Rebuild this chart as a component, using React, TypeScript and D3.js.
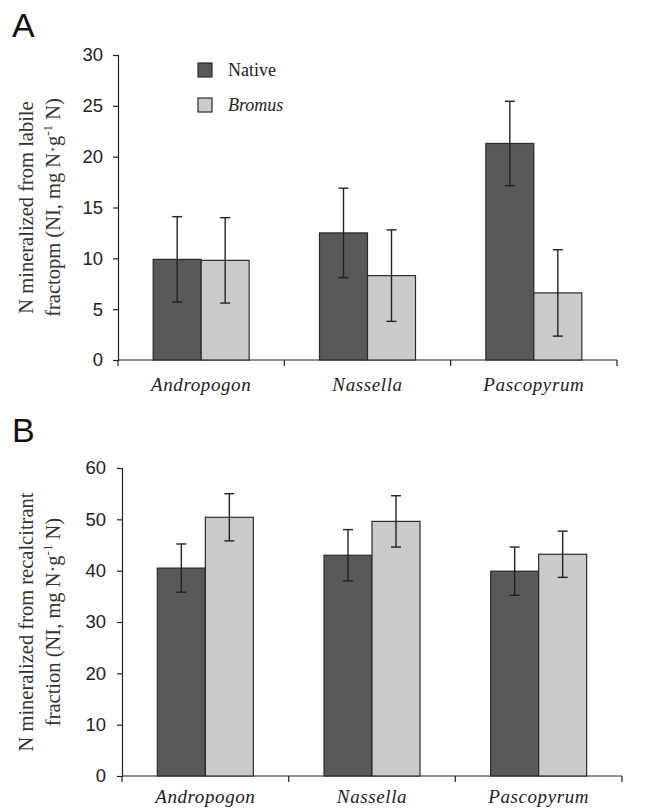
import React, { useRef, useEffect } from 'react';
import * as d3 from 'd3';

const categories = ['Andropogon', 'Nassella', 'Pascopyrum'];
const seriesNames = ['Native', 'Bromus'];

const labileNative = [9.9, 12.5, 21.3];
const labileNativeErr = [4.2, 4.4, 4.15];
const labileBromus = [9.8, 8.3, 6.6];
const labileBromusErr = [4.2, 4.5, 4.25];

const recalNative = [40.5, 43.0, 39.9];
const recalNativeErr = [4.7, 5.0, 4.7];
const recalBromus = [50.4, 49.6, 43.2];
const recalBromusErr = [4.6, 5.0, 4.5];

const labileTicks = [0, 5, 10, 15, 20, 25, 30];
const recalTicks = [0, 10, 20, 30, 40, 50, 60];

const colors = ['#59595b', '#c9cacc'];
const serif = '"Liberation Serif", "Times New Roman", serif';
const sans = '"Liberation Sans", Arial, sans-serif';

function drawPanel(svg, opts) {
  const { left, right, top, bottom, ticks, native, nativeErr, bromus, bromusErr, letter, letterY, title1, title2, labelGap, catGap } = opts;

  const x = d3.scaleBand().domain(categories).range([left, right]);
  const y = d3.scaleLinear().domain([0, ticks[ticks.length - 1]]).range([bottom, top]);
  const barW = 48;
  const inner = d3.scaleBand().domain(seriesNames).range([-barW, barW]);

  const g = svg.append('g');

  // y axis
  const yAxis = d3.axisLeft(y).tickValues(ticks).tickSize(5).tickPadding(labelGap);
  const yg = g.append('g').attr('transform', `translate(${left},0)`).call(yAxis);
  yg.select('.domain').attr('stroke', '#222').attr('stroke-width', 1.2);
  yg.selectAll('line').attr('stroke', '#222').attr('stroke-width', 1.2);
  yg.selectAll('text').attr('font-family', sans).attr('font-size', 18.5).attr('fill', '#222');

  // x axis: ticks at category boundaries
  const bounds = [left, ...categories.map((c) => x(c) + x.bandwidth())];
  g.append('line')
    .attr('x1', left).attr('x2', right)
    .attr('y1', bottom).attr('y2', bottom)
    .attr('stroke', '#222').attr('stroke-width', 1.2);
  g.selectAll('.xtick')
    .data(bounds)
    .enter()
    .append('line')
    .attr('x1', (d) => d).attr('x2', (d) => d)
    .attr('y1', bottom).attr('y2', bottom + 6)
    .attr('stroke', '#222').attr('stroke-width', 1.2);

  g.selectAll('.xlabel')
    .data(categories)
    .enter()
    .append('text')
    .attr('x', (d) => x(d) + x.bandwidth() / 2)
    .attr('y', bottom + catGap)
    .attr('text-anchor', 'middle')
    .attr('font-family', serif)
    .attr('font-style', 'italic')
    .attr('font-size', 19)
    .attr('letter-spacing', 0.6)
    .attr('fill', '#222')
    .text((d) => d);

  const rows = categories.flatMap((c, i) => [
    { c, s: 'Native', v: native[i], e: nativeErr[i], color: colors[0] },
    { c, s: 'Bromus', v: bromus[i], e: bromusErr[i], color: colors[1] },
  ]);

  const cx = (d) => x(d.c) + x.bandwidth() / 2;

  g.selectAll('.bar')
    .data(rows)
    .enter()
    .append('rect')
    .attr('x', (d) => cx(d) + inner(d.s))
    .attr('width', inner.bandwidth())
    .attr('y', (d) => y(d.v))
    .attr('height', (d) => bottom - y(d.v))
    .attr('fill', (d) => d.color)
    .attr('stroke', '#2a2a2a')
    .attr('stroke-width', 1.2);

  const mid = (d) => cx(d) + inner(d.s) + inner.bandwidth() / 2;
  const err = g.selectAll('.err').data(rows).enter().append('g').attr('stroke', '#222').attr('stroke-width', 1.4);
  err.append('line')
    .attr('x1', mid).attr('x2', mid)
    .attr('y1', (d) => y(d.v + d.e)).attr('y2', (d) => y(d.v - d.e));
  err.append('line')
    .attr('x1', (d) => mid(d) - 5).attr('x2', (d) => mid(d) + 5)
    .attr('y1', (d) => y(d.v + d.e)).attr('y2', (d) => y(d.v + d.e));
  err.append('line')
    .attr('x1', (d) => mid(d) - 5).attr('x2', (d) => mid(d) + 5)
    .attr('y1', (d) => y(d.v - d.e)).attr('y2', (d) => y(d.v - d.e));

  // panel letter
  g.append('text')
    .attr('x', 12).attr('y', letterY)
    .attr('font-family', sans).attr('font-size', 34).attr('fill', '#111')
    .text(letter);

  // y title, two lines
  const cy = (top + bottom) / 2;
  const t1 = g.append('text')
    .attr('transform', `translate(33,${cy}) rotate(-90)`)
    .attr('text-anchor', 'middle')
    .attr('font-family', serif).attr('font-size', 20.5).attr('fill', '#333');
  t1.text(title1);
  const t2 = g.append('text')
    .attr('transform', `translate(60,${cy}) rotate(-90)`)
    .attr('text-anchor', 'middle')
    .attr('font-family', serif).attr('font-size', 20.5).attr('fill', '#333');
  t2.append('tspan').text(title2 + ' (NI, mg N\u00b7g');
  t2.append('tspan').attr('font-size', 13).attr('dy', -8).text('-1');
  t2.append('tspan').attr('dy', 8).text(' N)');

  return { x, y };
}

function App() {
  const svgRef = useRef(null);

  useEffect(() => {
    const svg = d3.select(svgRef.current);
    svg.selectAll('*').remove();

    drawPanel(svg, {
      left: 118, right: 617, top: 55, bottom: 360,
      ticks: labileTicks,
      native: labileNative, nativeErr: labileNativeErr,
      bromus: labileBromus, bromusErr: labileBromusErr,
      letter: 'A', letterY: 37,
      title1: 'N mineralized from labile',
      title2: 'fractopm',
      labelGap: 10,
      catGap: 31,
    });

    drawPanel(svg, {
      left: 122, right: 622, top: 468, bottom: 776,
      ticks: recalTicks,
      native: recalNative, nativeErr: recalNativeErr,
      bromus: recalBromus, bromusErr: recalBromusErr,
      letter: 'B', letterY: 442,
      title1: 'N mineralized from recalcitrant',
      title2: 'fraction',
      labelGap: 11,
      catGap: 27,
    });

    // legend (panel A)
    const legend = svg.append('g');
    const items = legend.selectAll('.leg')
      .data(seriesNames)
      .enter()
      .append('g')
      .attr('transform', (d, i) => `translate(198,${63 + i * 35})`);
    items.append('rect')
      .attr('width', 14).attr('height', 14)
      .attr('fill', (d, i) => colors[i])
      .attr('stroke', '#2a2a2a').attr('stroke-width', 1.2);
    items.append('text')
      .attr('x', 30).attr('y', 12.5)
      .attr('font-family', serif).attr('font-size', 18).attr('fill', '#222')
      .attr('font-style', (d) => (d === 'Bromus' ? 'italic' : 'normal'))
      .text((d) => d);
  }, []);

  return (
    <svg
      ref={svgRef}
      width={672}
      height={811}
      style={{ position: 'absolute', left: 0, top: 0, background: '#fff' }}
    />
  );
}

export default App;
